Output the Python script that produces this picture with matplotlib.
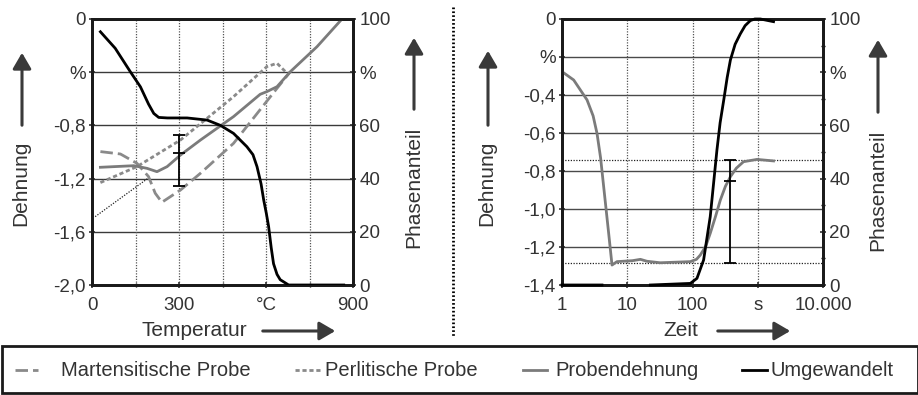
import numpy as np
import matplotlib
matplotlib.use("Agg")
import matplotlib.pyplot as plt
from matplotlib.lines import Line2D
from matplotlib.patches import Rectangle, FancyArrowPatch

plt.rcParams['font.family'] = ['Liberation Sans', 'DejaVu Sans']

# ---------------- data: left panel (temperature) ----------------
temp_ticks = [0, 300, 600, 900]
temp_ticklabels = ['0', '300', '°C', '900']
dehn_ticks_left = [0, -0.4, -0.8, -1.2, -1.6, -2.0]
dehn_ticklabels_left = ['0', '%', '-0,8', '-1,2', '-1,6', '-2,0']
phase_ticks = [0, 20, 40, 60, 80, 100]
phase_ticklabels = ['0', '20', '40', '60', '%', '100']

temp_umg = [29, 80, 132, 167, 195, 213, 230, 260, 328, 397, 443, 488, 534, 555, 569, 583, 592, 601, 609, 618, 626, 638, 649, 678, 868]
umg_temp = [95.2, 89, 80.2, 74.5, 68, 64.5, 63, 62.8, 62.8, 62, 60, 57, 52, 49, 44.5, 38, 32, 27, 22, 14, 8, 4, 2, 0, 0]

temp_probe = [29, 144, 190, 224, 259, 305, 374, 488, 580, 603, 638, 684, 776, 862]
dehn_probe = [-1.115, -1.103, -1.123, -1.148, -1.11, -1.023, -0.91, -0.734, -0.566, -0.546, -0.509, -0.396, -0.208, 0.0]

temp_mart = [29, 98, 155, 195, 218, 241, 305, 374, 488, 638, 684]
dehn_mart = [-0.997, -1.015, -1.085, -1.185, -1.31, -1.378, -1.286, -1.16, -0.935, -0.521, -0.396]

temp_perl = [29, 155, 305, 488, 603, 638, 667]
dehn_perl = [-1.23, -1.11, -0.91, -0.584, -0.358, -0.333, -0.396]

temp_extra = [11, 201]
dehn_extra = [-1.486, -1.185]

err_temp = 300
err_temp_center = -1.01
err_temp_low = -1.256
err_temp_high = -0.872

# ---------------- data: right panel (time) ----------------
time_ticks = [1, 10, 100, 1000, 10000]
time_ticklabels = ['1', '10', '100', 's', '10.000']
dehn_ticks_right = [0, -0.2, -0.4, -0.6, -0.8, -1.0, -1.2, -1.4]
dehn_ticklabels_right = ['0', '%', '-0,4', '-0,6', '-0,8', '-1,0', '-1,2', '-1,4']

time_probe = [1, 1.51, 2.42, 3.0, 3.44, 3.9, 4.35, 5.19, 5.84, 6.96, 12, 15.9, 20, 32, 92.7, 115, 132, 160, 187, 225, 267, 320, 381, 470, 606, 975, 1745]
dehn_time = [-0.277, -0.321, -0.426, -0.51, -0.602, -0.73, -0.882, -1.128, -1.295, -1.277, -1.272, -1.265, -1.275, -1.283, -1.277, -1.265, -1.242, -1.195, -1.128, -1.04, -0.953, -0.88, -0.83, -0.785, -0.751, -0.739, -0.747]

time_umg = [1, 4.1, np.nan, 22.6, 92.7, 117, 148, 165, 187, 210, 237, 265, 301, 340, 381, 450, 540, 640, 769, 900, 1097, 1745]
umg_time = [0, 0, np.nan, 0, 0.6, 2.5, 9.4, 17, 25.7, 38, 50.8, 61, 69.5, 78, 84.6, 90.5, 94.4, 97.5, 99.4, 100, 100, 99]

ref_levels = [-0.742, -1.283]
err_time = 381
err_time_center = -0.853

GRAY = '#7b7b7b'
GRAY2 = '#8a8a8a'
FS = 13.5
FS_LAB = 15
FS_LEG = 14.5

fig = plt.figure(figsize=(9.18, 3.95), dpi=100)
W, H = 918.0, 395.0

def fx(px):
    return px / W

def fy(py):
    return 1 - py / H

axL = fig.add_axes([fx(92), fy(285), (353 - 92) / W, (285 - 19) / H])
axR = fig.add_axes([fx(562), fy(285), (823 - 562) / W, (285 - 19) / H])


def style_axes(ax):
    for s in ax.spines.values():
        s.set_linewidth(2.0)
        s.set_color('#1a1a1a')
    ax.tick_params(labelsize=FS, colors='#333333', width=1.2, length=4, direction='inout', pad=2.5)
    ax.tick_params(axis='x', pad=6.5)


# ---------- left panel ----------
axL.set_xlim(0, 900)
axL.set_ylim(-2.0, 0)
for v in dehn_ticks_left[1:-1]:
    axL.axhline(v, color='#3a3a3a', lw=1.0, zorder=1)
for v in [150, 300, 450, 600, 750]:
    axL.axvline(v, color='#555555', lw=0.9, ls=(0, (1, 1.2)), zorder=1)
axL.set_xticks(temp_ticks)
axL.set_xticklabels(temp_ticklabels)
axL.set_xticks([150, 450, 750], minor=True)
axL.set_yticks(dehn_ticks_left)
axL.set_yticklabels(dehn_ticklabels_left)
style_axes(axL)
axL.tick_params(which='minor', length=3, direction='inout', width=1)

axL.plot(temp_extra, dehn_extra, color='#222222', lw=0.9, ls=(0, (1, 1.2)), zorder=2)
axL.plot(temp_perl, dehn_perl, color=GRAY2, lw=2.0, dashes=(1.5, 1.0), zorder=3)
axL.plot(temp_mart, dehn_mart, color=GRAY2, lw=2.0, dashes=(4.5, 1.8), zorder=3)
axL.plot(temp_probe, dehn_probe, color=GRAY, lw=2.0, zorder=4)
axL.errorbar([err_temp], [err_temp_center],
             yerr=[[err_temp_center - err_temp_low], [err_temp_high - err_temp_center]],
             fmt='_', color='black', ms=9, mew=1.3, elinewidth=1.3, capsize=4.5, capthick=1.3, zorder=6)

axL2 = axL.twinx()
axL2.set_ylim(0, 100)
axL2.set_yticks(phase_ticks)
axL2.set_yticklabels(phase_ticklabels)
style_axes(axL2)
axL2.plot(temp_umg, umg_temp, color='black', lw=2.0, zorder=5)

# ---------- right panel ----------
axR.set_xscale('log')
axR.set_xlim(1, 10000)
axR.set_ylim(-1.4, 0)
for v in dehn_ticks_right[1:-1]:
    axR.axhline(v, color='#4a4a4a', lw=1.0, zorder=1)
for v in [10, 100, 1000]:
    axR.axvline(v, color='#555555', lw=0.9, ls=(0, (1, 1.2)), zorder=1)
for v in ref_levels:
    axR.axhline(v, color='#222222', lw=0.9, ls=(0, (1, 1.2)), zorder=2)
axR.set_xticks(time_ticks)
axR.set_xticklabels(time_ticklabels)
axR.xaxis.set_minor_locator(matplotlib.ticker.NullLocator())
axR.set_yticks(dehn_ticks_right)
axR.set_yticklabels(dehn_ticklabels_right)
style_axes(axR)

axR.plot(time_probe, dehn_time, color=GRAY, lw=2.0, zorder=4)
axR.errorbar([err_time], [err_time_center],
             yerr=[[err_time_center - ref_levels[1]], [ref_levels[0] - err_time_center]],
             fmt='_', color='black', ms=9, mew=1.3, elinewidth=1.3, capsize=4.5, capthick=1.3, zorder=6)

axR2 = axR.twinx()
axR2.set_ylim(0, 100)
axR2.set_yticks(phase_ticks)
axR2.set_yticklabels(phase_ticklabels)
axR2.set_yticks([10, 30, 50, 70, 90], minor=True)
style_axes(axR2)
axR2.tick_params(which='minor', length=3, direction='inout', width=1)
axR2.plot(time_umg, umg_time, color='black', lw=2.0, zorder=5, clip_on=False)

# ---------- axis labels and arrows ----------
def arrow(x0, y0, x1, y1):
    a = FancyArrowPatch((fx(x0), fy(y0)), (fx(x1), fy(y1)), transform=fig.transFigure,
                        arrowstyle='-|>,head_length=6,head_width=3.5', color='#3a3a3a', lw=2.2,
                        mutation_scale=1.6)
    fig.add_artist(a)

lab_kw = dict(fontsize=FS_LAB, color='#333333', ha='center', va='center')
fig.text(fx(21), fy(183), 'Dehnung', rotation=90, **lab_kw)
arrow(22, 128, 22, 50)
fig.text(fx(414), fy(187), 'Phasenanteil', rotation=90, **lab_kw)
arrow(414, 112, 414, 35)
fig.text(fx(194), fy(330), 'Temperatur', **lab_kw)
arrow(260, 331, 338, 331)

fig.text(fx(487), fy(183), 'Dehnung', rotation=90, **lab_kw)
arrow(488, 128, 488, 48)
fig.text(fx(878), fy(190), 'Phasenanteil', rotation=90, **lab_kw)
arrow(878, 115, 878, 37)
fig.text(fx(681), fy(330), 'Zeit', **lab_kw)
arrow(715, 331, 793, 331)

# separator
fig.add_artist(Line2D([fx(453), fx(453)], [fy(7), fy(336)], transform=fig.transFigure,
                      color='black', lw=2.0, ls=(0, (0.6, 0.8))))

# legend box
fig.add_artist(Rectangle((fx(2), fy(393)), fx(916), (393 - 346) / H, transform=fig.transFigure,
                         fill=False, edgecolor='#1a1a1a', lw=2.0))
ly = fy(370)
leg_items = [
    (15, 38, 61, 'Martensitische Probe', dict(color=GRAY2, lw=2.0, dashes=(4.5, 1.8))),
    (295, 320, 325, 'Perlitische Probe', dict(color=GRAY2, lw=2.0, dashes=(1.5, 1.0))),
    (523, 547, 555, 'Probendehnung', dict(color=GRAY, lw=2.0)),
    (742, 767, 771, 'Umgewandelt', dict(color='black', lw=2.0)),
]
for x0, x1, xt, txt, kw in leg_items:
    fig.add_artist(Line2D([fx(x0), fx(x1)], [ly, ly], transform=fig.transFigure, **kw))
    fig.text(fx(xt), ly, txt, fontsize=FS_LEG, color='#333333', ha='left', va='center')

fig.savefig('out.png', dpi=100)
